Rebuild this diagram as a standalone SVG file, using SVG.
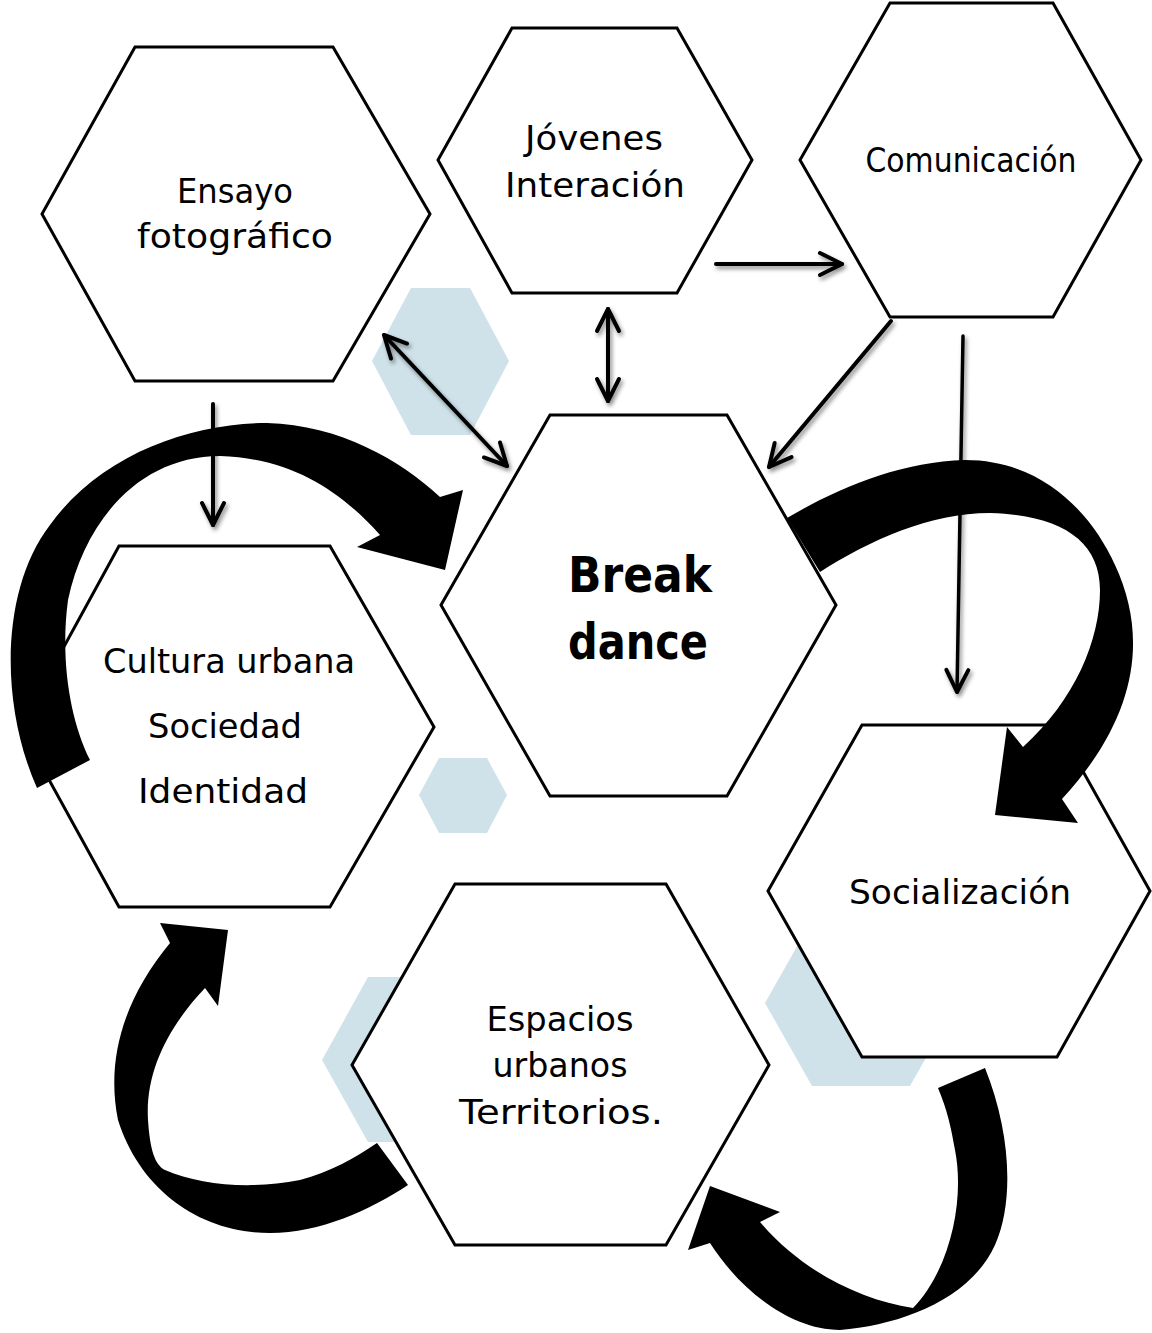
<svg xmlns="http://www.w3.org/2000/svg" width="1152" height="1333" viewBox="0 0 1152 1333">
<style>
.hex{fill:#fff;stroke:#000;stroke-width:3;stroke-linejoin:miter}
.deco{fill:#cfe2ea}
.lbl{font-family:"DejaVu Sans","Liberation Sans",sans-serif;font-size:34px;fill:#000;text-anchor:middle}
.big{font-family:"DejaVu Sans","Liberation Sans",sans-serif;font-size:50px;font-weight:bold;fill:#000;text-anchor:middle}
.thin{fill:none;stroke:#000;stroke-width:4;stroke-linecap:round}
.thick{fill:#000;stroke:none}
</style>
<defs>
<marker id="ah" markerUnits="userSpaceOnUse" markerWidth="40" markerHeight="40" viewBox="-30 -20 40 40" refX="0" refY="0" orient="auto-start-reverse" overflow="visible">
<path d="M-22,-11 L0,0 L-22,11" fill="none" stroke="#000" stroke-width="4" stroke-linecap="round" stroke-linejoin="round"/>
</marker>
<filter id="sh" x="-20%" y="-20%" width="140%" height="140%">
<feDropShadow dx="2" dy="3" stdDeviation="2" flood-color="#000" flood-opacity="0.45"/>
</filter>
</defs>

<g id="decor">
<polygon class="deco" points="411,288 470,288 509,361 470,435 411,435 372,361"/>
<polygon class="deco" points="439,758 487,758 507,795 487,833 439,833 419,795"/>
<polygon class="deco" points="368,977 460,977 506,1060 460,1142 368,1142 322,1060"/>
<polygon class="deco" points="812,920 910,920 957,1003 910,1086 812,1086 765,1003"/>
</g>

<g id="n-ensayo">
<polygon class="hex" points="135,47 333,47 430,214 333,381 135,381 42,214"/>
<text class="lbl" x="235" y="203" textLength="116" lengthAdjust="spacingAndGlyphs">Ensayo</text>
<text class="lbl" x="235" y="248" textLength="196" lengthAdjust="spacingAndGlyphs">fotográfico</text>
</g>
<g id="n-jovenes">
<polygon class="hex" points="512,28 677,28 752,160 677,293 512,293 438,160"/>
<text class="lbl" x="594" y="150" textLength="138" lengthAdjust="spacingAndGlyphs">Jóvenes</text>
<text class="lbl" x="595" y="197" textLength="180" lengthAdjust="spacingAndGlyphs">Interación</text>
</g>
<g id="n-comunicacion">
<polygon class="hex" points="890,3 1053,3 1141,160 1053,317 890,317 800,160"/>
<text class="lbl" x="971" y="172" textLength="211" lengthAdjust="spacingAndGlyphs">Comunicación</text>
</g>
<g id="n-break">
<polygon class="hex" points="550,415 727,415 836,605 727,796 550,796 441,605"/>
<text class="big" x="640" y="592" textLength="144" lengthAdjust="spacingAndGlyphs">Break</text>
<text class="big" x="638" y="659" textLength="140" lengthAdjust="spacingAndGlyphs">dance</text>
</g>
<g id="n-cultura">
<polygon class="hex" points="119,546 330,546 434,727 330,907 119,907 20,727"/>
<text class="lbl" x="229" y="673" textLength="252" lengthAdjust="spacingAndGlyphs">Cultura urbana</text>
<text class="lbl" x="225" y="738" textLength="154" lengthAdjust="spacingAndGlyphs">Sociedad</text>
<text class="lbl" x="223" y="803" textLength="170" lengthAdjust="spacingAndGlyphs">Identidad</text>
</g>
<g id="n-socializacion">
<polygon class="hex" points="862,725 1057,725 1150,891 1057,1057 862,1057 768,891"/>
<text class="lbl" x="960" y="904" textLength="222" lengthAdjust="spacingAndGlyphs">Socialización</text>
</g>
<g id="n-espacios">
<polygon class="hex" points="455,884 666,884 769,1065 666,1245 455,1245 352,1065"/>
<text class="lbl" x="560" y="1031" textLength="147" lengthAdjust="spacingAndGlyphs">Espacios</text>
<text class="lbl" x="560" y="1077" textLength="135" lengthAdjust="spacingAndGlyphs">urbanos</text>
<text class="lbl" x="561" y="1124" textLength="204" lengthAdjust="spacingAndGlyphs">Territorios.</text>
</g>

<g id="connectors">
<g filter="url(#sh)">
<line class="thin" x1="213" y1="404" x2="213" y2="525" marker-end="url(#ah)"/>
<line class="thin" x1="384" y1="335" x2="507" y2="466" marker-start="url(#ah)" marker-end="url(#ah)"/>
<line class="thin" x1="608" y1="309" x2="608" y2="401" marker-start="url(#ah)" marker-end="url(#ah)"/>
<line class="thin" x1="716" y1="264" x2="842" y2="264" marker-end="url(#ah)"/>
<line class="thin" x1="891" y1="321" x2="769" y2="467" marker-end="url(#ah)"/>
<line class="thin" style="stroke-width:3.5" x1="963" y1="336" x2="957" y2="692" marker-end="url(#ah)"/>
</g>
<path class="thick" d="M37,788 C0,705 0,590 50,525 C100,455 190,423 267,423 C340,425 400,460 440,497 L463,490 L445,570 L357,547 L380,535 C340,490 290,458 220,456 C140,456 85,520 68,600 C60,660 70,720 90,760 Z"/>
<path class="thick" d="M787,518 C840,487 900,462 965,460 C1040,460 1090,510 1115,565 C1150,640 1135,720 1062,799 L1078,823 L995,815 L1007,727 L1023,747 C1075,700 1100,640 1100,590 C1100,540 1060,515 990,513 C930,513 870,540 820,572 Z"/>
<path class="thick" d="M938,1088 L985,1068 C1010,1130 1015,1200 995,1245 C970,1300 900,1325 840,1330 C790,1330 740,1290 710,1243 L688,1250 L710,1186 L780,1212 L760,1222 C800,1270 860,1300 913,1308 C950,1270 965,1200 955,1150 C950,1120 945,1105 938,1088 Z"/>
<path class="thick" d="M377,1143 L408,1185 C370,1210 320,1233 270,1233 C200,1233 140,1190 118,1120 C106,1060 123,1000 170,943 L160,923 L228,930 L218,1006 L205,988 C170,1025 145,1070 148,1120 C150,1150 155,1165 165,1170 C200,1185 250,1190 300,1180 C330,1172 355,1158 377,1143 Z"/>
</g>
</svg>
